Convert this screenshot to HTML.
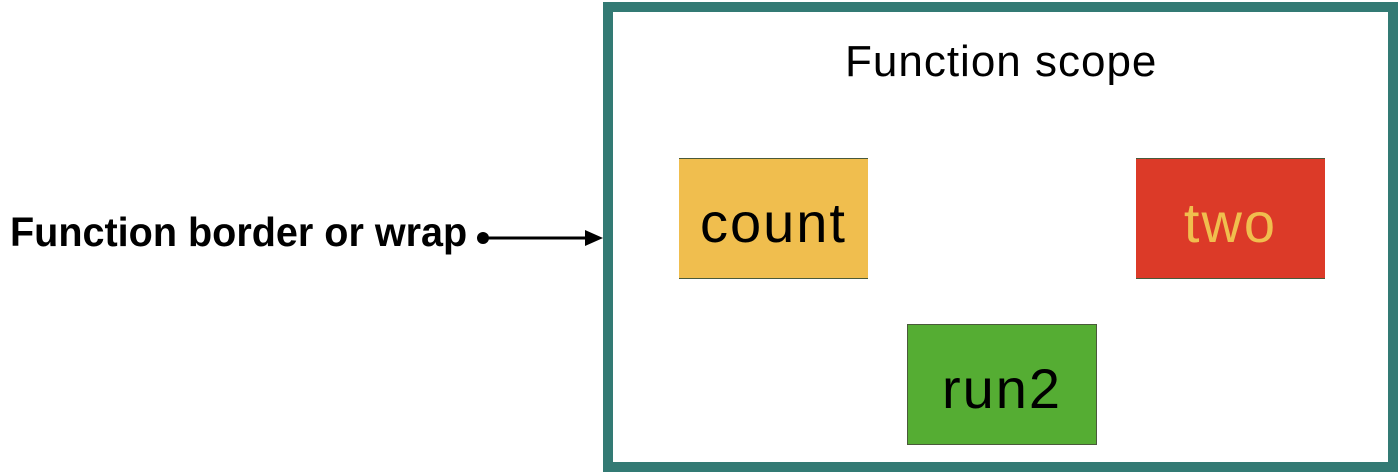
<!DOCTYPE html>
<html><head><style>
html,body{margin:0;padding:0;background:#fff;}
body{width:1400px;height:474px;position:relative;overflow:hidden;font-family:"Liberation Sans",sans-serif;}
.frame{position:absolute;left:603px;top:2px;width:775px;height:450px;border:10px solid #337a74;background:#fff;}
.box{position:absolute;display:flex;align-items:center;justify-content:center;font-size:56px;letter-spacing:2px;border-top:1px solid #4a5a3a;border-bottom:1px solid #4a5a3a;box-sizing:border-box;padding-top:8px;}
.lbl{position:absolute;left:10px;top:209px;font-weight:bold;font-size:41px;white-space:nowrap;transform-origin:0 0;transform:scaleX(0.965);color:#000;}
.title{position:absolute;left:845px;top:37px;font-size:44px;letter-spacing:1px;color:#000;}
</style></head><body>
<div class="frame"></div>
<div class="title">Function scope</div>
<div class="box" style="left:679px;top:158px;width:189px;height:121px;background:#f0be4e;color:#000;">count</div>
<div class="box" style="left:1136px;top:158px;width:189px;height:121px;background:#dc3a28;color:#f0be4e;">two</div>
<div class="box" style="left:907px;top:324px;width:190px;height:121px;background:#55ad33;color:#000;border:1px solid #4a5a3a;">run2</div>
<div class="lbl">Function border or wrap</div>
<svg width="1400" height="474" style="position:absolute;left:0;top:0">
<circle cx="483" cy="238" r="6" fill="#000"/>
<line x1="483" y1="238" x2="588" y2="238" stroke="#000" stroke-width="3"/>
<polygon points="585,230 603,238 585,246" fill="#000"/>
</svg>
</body></html>
